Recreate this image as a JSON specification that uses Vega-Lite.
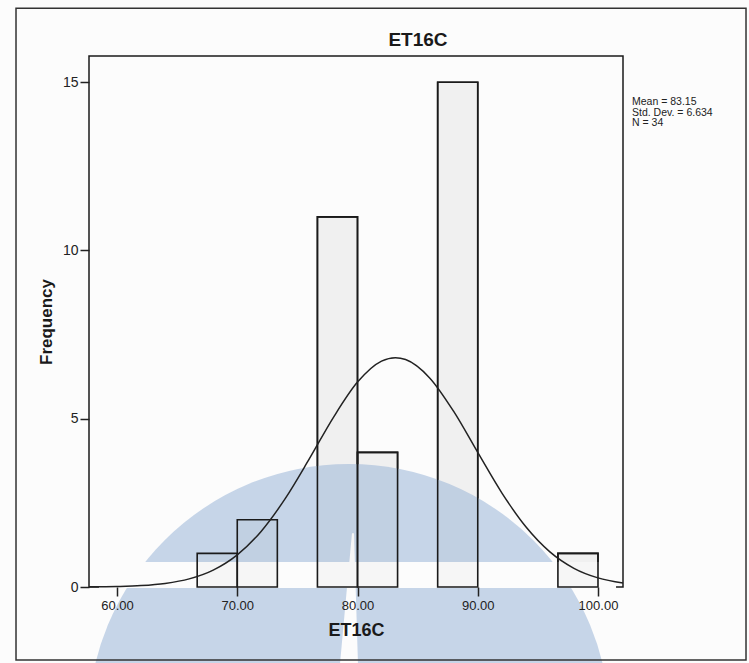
{
  "$schema": "https://vega.github.io/schema/vega-lite/v6.json",
  "width": 534,
  "height": 531,
  "autosize": {"type": "none"},
  "padding": {"left": 89, "top": 56, "right": 126, "bottom": 76},
  "background": "#fcfcfc",
  "config": {"view": {"stroke": "#1a1a1a", "strokeWidth": 1.5}, "font": "Liberation Sans"},
  "datasets": {
    "bins": [
      {"x": 66.667, "x2": 70.0, "y": 1},
      {"x": 70.0, "x2": 73.333, "y": 2},
      {"x": 76.667, "x2": 80.0, "y": 11},
      {"x": 80.0, "x2": 83.333, "y": 4},
      {"x": 86.667, "x2": 90.0, "y": 15},
      {"x": 96.667, "x2": 100.0, "y": 1}
    ],
    "curve": [
      {"x": 57.67, "y": 0.004}, {"x": 60, "y": 0.016}, {"x": 62, "y": 0.042}, {"x": 64, "y": 0.106},
      {"x": 66, "y": 0.241}, {"x": 68, "y": 0.502}, {"x": 70, "y": 0.955}, {"x": 72, "y": 1.66},
      {"x": 74, "y": 2.633}, {"x": 76, "y": 3.812}, {"x": 78, "y": 5.042}, {"x": 80, "y": 6.089},
      {"x": 82, "y": 6.713}, {"x": 83.15, "y": 6.815}, {"x": 84, "y": 6.759}, {"x": 86, "y": 6.214},
      {"x": 88, "y": 5.217}, {"x": 90, "y": 3.999}, {"x": 92, "y": 2.799}, {"x": 94, "y": 1.789},
      {"x": 96, "y": 1.044}, {"x": 98, "y": 0.556}, {"x": 100, "y": 0.271}, {"x": 102.08, "y": 0.116}
    ],
    "wedge": [
      {"y": 1.6, "x": 79.54, "x2": 79.71},
      {"y": -2.3, "x": 78.54, "x2": 80.04}
    ],
    "stats": [{"text": "Mean = 83.15\nStd. Dev. = 6.634\nN = 34"}],
    "title": [{"text": "ET16C"}]
  },
  "layer": [
    {
      "data": {"name": "bins"},
      "mark": {"type": "rect", "fill": "#000", "fillOpacity": 0.025, "stroke": "#1a1a1a", "strokeWidth": 1.6},
      "encoding": {
        "x": {
          "field": "x", "type": "quantitative", "title": "ET16C",
          "scale": {"domain": [57.67, 102.08], "nice": false, "zero": false},
          "axis": {"values": [60, 70, 80, 90, 100], "format": ".2f", "grid": false, "domain": false, "zindex": 2,
                   "tickSize": 9, "tickColor": "#222", "tickWidth": 1.5, "labelFontSize": 13, "labelColor": "#222",
                   "labelPadding": 3, "titleFontSize": 18, "titleFontWeight": "bold", "titleColor": "#1a1a1a", "titlePadding": 9}
        },
        "x2": {"field": "x2"},
        "y": {
          "field": "y", "type": "quantitative", "title": "Frequency",
          "scale": {"domain": [0, 15.78], "nice": false},
          "axis": {"values": [0, 5, 10, 15], "grid": false, "domain": false, "zindex": 2,
                   "tickSize": 9, "tickColor": "#222", "tickWidth": 1.5, "labelFontSize": 14, "labelColor": "#222",
                   "labelPadding": 2, "titleFontSize": 17, "titleFontWeight": "bold", "titleColor": "#1a1a1a", "titlePadding": 7}
        },
        "y2": {"datum": 0}
      }
    },
    {
      "data": {"values": [{}]},
      "mark": {"type": "point", "shape": "circle", "filled": true, "size": 272484, "color": "#c6d5e8", "opacity": 1},
      "encoding": {"x": {"datum": 79.29, "type": "quantitative"}, "y": {"datum": -4.1, "type": "quantitative"}}
    },
    {
      "data": {"values": [{}]},
      "mark": {"type": "rect", "color": "#fcfcfc"},
      "encoding": {"x": {"datum": 58.5, "type": "quantitative"}, "x2": {"datum": 101.5}, "y": {"datum": 0.74, "type": "quantitative"}, "y2": {"datum": -0.03}}
    },
    {
      "data": {"name": "wedge"},
      "mark": {"type": "area", "orient": "horizontal", "color": "#fcfcfc"},
      "encoding": {
        "x": {"field": "x", "type": "quantitative", "title": "ET16C"},
        "x2": {"field": "x2"},
        "y": {"field": "y", "type": "quantitative", "title": "Frequency"}
      }
    },
    {
      "data": {"name": "bins"},
      "mark": {"type": "rect", "fill": "#000", "fillOpacity": 0.025, "stroke": "#1a1a1a", "strokeWidth": 1.6},
      "encoding": {
        "x": {"field": "x", "type": "quantitative", "title": "ET16C"},
        "x2": {"field": "x2"},
        "y": {"field": "y", "type": "quantitative", "title": "Frequency"},
        "y2": {"datum": 0}
      }
    },
    {
      "data": {"name": "curve"},
      "mark": {"type": "line", "interpolate": "monotone", "color": "#222", "strokeWidth": 1.5},
      "encoding": {
        "x": {"field": "x", "type": "quantitative", "title": "ET16C"},
        "y": {"field": "y", "type": "quantitative", "title": "Frequency"}
      }
    },
    {
      "data": {"name": "stats"},
      "mark": {"type": "text", "align": "left", "baseline": "middle", "fontSize": 10.5, "lineHeight": 10.5, "lineBreak": "\n", "color": "#222", "font": "Liberation Sans"},
      "encoding": {"x": {"datum": 102.83, "type": "quantitative"}, "y": {"datum": 14.41, "type": "quantitative"}, "text": {"field": "text"}}
    },
    {
      "data": {"name": "title"},
      "mark": {"type": "text", "align": "center", "baseline": "alphabetic", "fontSize": 19, "fontWeight": "bold", "color": "#1a1a1a", "font": "Liberation Sans"},
      "encoding": {"x": {"datum": 85.03, "type": "quantitative"}, "y": {"datum": 16.08, "type": "quantitative"}, "text": {"field": "text"}}
    },
    {
      "data": {"values": [{}]},
      "mark": {"type": "rect", "fillOpacity": 0, "stroke": "#333", "strokeWidth": 1.5},
      "encoding": {"x": {"datum": 51.6, "type": "quantitative"}, "x2": {"datum": 112.31}, "y": {"datum": 17.2, "type": "quantitative"}, "y2": {"datum": -2.17}}
    }
  ]
}
